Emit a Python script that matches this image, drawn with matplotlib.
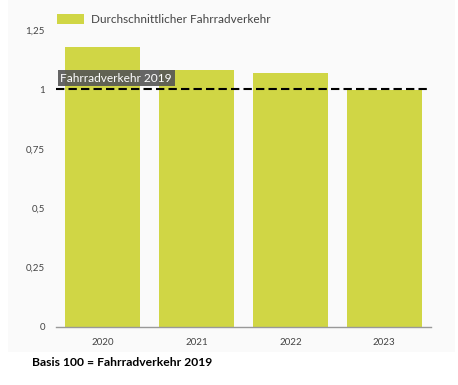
import matplotlib.pyplot as plt
import matplotlib.transforms as mtransforms
from matplotlib.patches import Rectangle

years = ["2020", "2021", "2022", "2023"]
traffic = [1.178, 1.082, 1.069, 0.997]
baseline = 1.0
yticks = [0, 0.25, 0.5, 0.75, 1, 1.25]
ytick_labels = ["0", "0,25", "0,5", "0,75", "1", "1,25"]

plt.rcParams['font.family'] = ['Lato', 'DejaVu Sans']

fig = plt.figure(figsize=(4.58, 3.85), dpi=100)
fig.patch.set_facecolor('white')
fig.patches.append(Rectangle((8 / 458, 1 - 352 / 385), 447 / 458, 352 / 385,
                             transform=fig.transFigure, facecolor='#fafafa',
                             edgecolor='none', zorder=-1))

ax = fig.add_axes([56 / 458, 58 / 385, 375 / 458, 297 / 385])
ax.set_facecolor('none')

x = range(len(years))
ax.bar(x, traffic, width=0.8, color='#d0d645', zorder=2,
       label='Durchschnittlicher Fahrradverkehr')
ax.axhline(baseline, color='black', linestyle=(0, (4, 2)), linewidth=1.5, zorder=3)

trans = mtransforms.blended_transform_factory(ax.transAxes, ax.transData)
ax.text(0.012, baseline + 0.047, 'Fahrradverkehr 2019', color='white', fontsize=8.6,
        va='center', ha='left', zorder=4, transform=trans,
        bbox=dict(boxstyle='square,pad=0.22', facecolor='#555555', edgecolor='none', alpha=0.9))

ax.set_xlim(-0.5, 3.5)
ax.set_ylim(0, 1.25)
ax.set_xticks(list(x))
ax.set_xticklabels(years, fontsize=7, color='#444444')
ax.set_yticks(yticks)
ax.set_yticklabels(ytick_labels, fontsize=7, color='#444444')
ax.tick_params(length=0, pad=8)
for s in ['top', 'right', 'left']:
    ax.spines[s].set_visible(False)
ax.spines['bottom'].set_color('#999999')
ax.spines['bottom'].set_linewidth(1)

fig.legend(loc='upper left', bbox_to_anchor=(46 / 458, 1 - 3 / 385), frameon=False,
           fontsize=8.5, handlelength=2.3, handleheight=1.0, handletextpad=0.6,
           labelcolor='#444444')

fig.text(32 / 458, 1 - 362 / 385, 'Basis 100 = Fahrradverkehr 2019', fontsize=8.7,
         fontweight='bold', color='black', va='center', ha='left')

fig.savefig('out.png', dpi=100)
